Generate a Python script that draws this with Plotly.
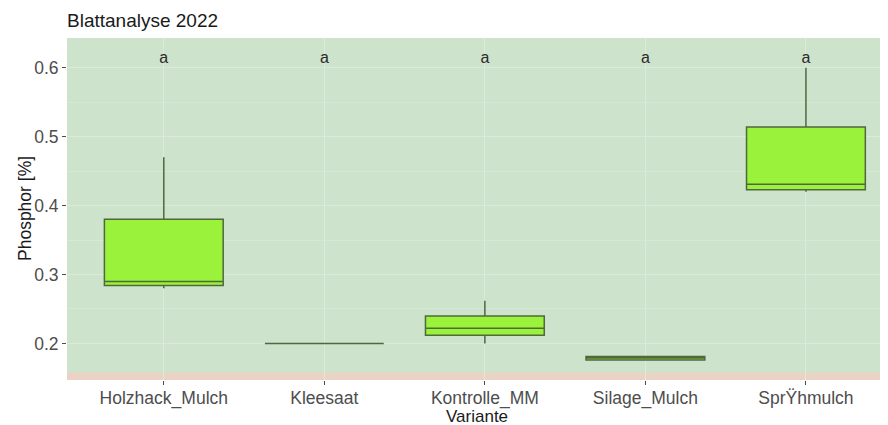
import plotly.graph_objects as go

categories = ["Holzhack_Mulch", "Kleesaat", "Kontrolle_MM", "Silage_Mulch", "SprŸhmulch"]
lowerfence = [0.280, 0.200, 0.200, 0.176, 0.420]
q1 = [0.284, 0.200, 0.212, 0.176, 0.423]
median = [0.290, 0.200, 0.222, 0.179, 0.431]
q3 = [0.380, 0.200, 0.240, 0.181, 0.514]
upperfence = [0.470, 0.200, 0.262, 0.181, 0.600]
letters = ["a", "a", "a", "a", "a"]
letter_y = [0.613] * 5

y_range = [0.147, 0.643]
pink_top = 0.158

W, H = 880, 417

fig = go.Figure()
fig.add_trace(go.Box(
    x=categories, q1=q1, median=median, q3=q3,
    lowerfence=lowerfence, upperfence=upperfence,
    fillcolor="#9af23a",
    line=dict(color="#50683f", width=1.5),
    whiskerwidth=0,
    width=0.74,
    boxpoints=False,
    showlegend=False,
    hoverinfo="skip",
))
fig.add_trace(go.Scatter(
    x=categories, y=letter_y, mode="text", text=letters,
    textfont=dict(family="Liberation Sans, Arial", size=16, color="#2b2b2b"),
    showlegend=False, hoverinfo="skip",
))

fig.add_shape(type="rect", xref="paper", yref="y", x0=0, x1=1,
              y0=y_range[0], y1=pink_top, fillcolor="#ead3c5",
              line=dict(width=0), layer="between")

fig.add_annotation(text="Phosphor [%]", xref="paper", yref="paper",
                   x=0, y=0.5, xanchor="center", yanchor="middle",
                   xshift=-42, textangle=-90, showarrow=False,
                   font=dict(size=17.5, color="#1a1a1a"))
fig.add_annotation(text="Variante", xref="paper", yref="paper",
                   x=0.5, y=0, yshift=-36.5, xanchor="center", yanchor="middle",
                   showarrow=False,
                   font=dict(size=17, color="#1a1a1a"))

fig.update_layout(
    width=W, height=H,
    margin=dict(l=59, r=1, t=30, b=45, autoexpand=False),
    paper_bgcolor="white",
    plot_bgcolor="#cde3cb",
    font=dict(family="Liberation Sans, Arial", size=14, color="#4d4d4d"),
    title=dict(text="Blattanalyse 2022", x=59/W, xanchor="left",
               y=1 - 12/H, yanchor="middle",
               font=dict(size=19, color="#1a1a1a")),
)
fig.update_xaxes(
    range=[-0.603, 4.505], automargin=False,
    showgrid=True, gridcolor="#dcebd9", gridwidth=1,
    ticks="outside", ticklen=4, tickcolor="#4d4d4d",
    ticklabelstandoff=-2,
    tickfont=dict(size=17.5, color="#4d4d4d"),
    zeroline=False, showline=False,
)
fig.update_yaxes(
    range=y_range, automargin=False,
    tickvals=[0.2, 0.3, 0.4, 0.5, 0.6],
    ticktext=["0.2", "0.3", "0.4", "0.5", "0.6"],
    showgrid=True, gridcolor="#dcebd9", gridwidth=1,
    minor=dict(tickvals=[0.25, 0.35, 0.45, 0.55], showgrid=True,
               gridcolor="#d6e8d3", gridwidth=0.6, ticks=""),
    ticks="outside", ticklen=4, tickcolor="#4d4d4d",
    tickfont=dict(size=17.5, color="#4d4d4d"),
    zeroline=False, showline=False,
)

fig.write_html("out.html")
